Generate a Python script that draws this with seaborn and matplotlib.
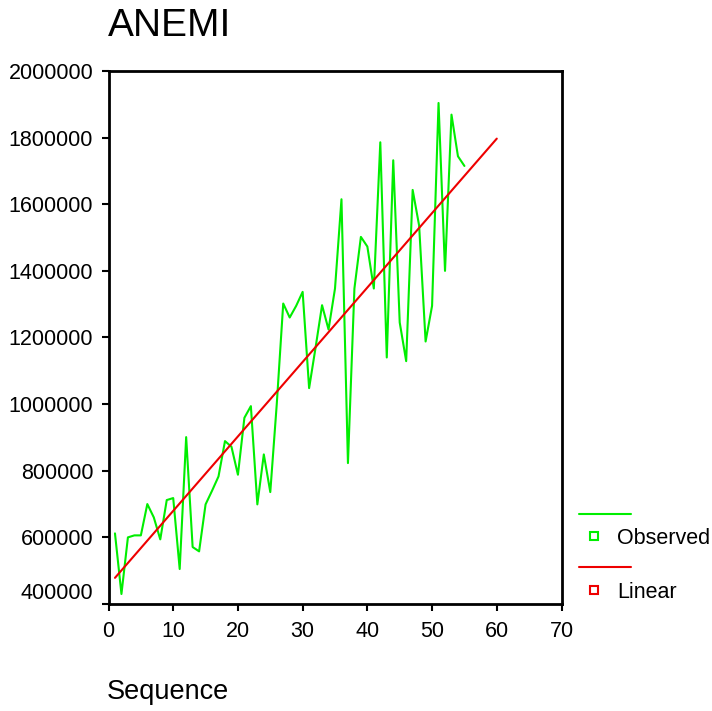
import matplotlib
matplotlib.use("Agg")
import matplotlib.pyplot as plt
from matplotlib.lines import Line2D
import seaborn as sns
import pandas as pd

# ---- data ----
sequence = list(range(1, 56))
observed = [612000, 430000, 600000, 606000, 606000, 700000, 660000, 594000, 712000, 718000,
            505000, 901000, 571000, 558000, 699000, 740000, 783000, 889000, 872000, 788000,
            959000, 994000, 699000, 849000, 736000, 1000000, 1302000, 1260000, 1295000, 1337000,
            1048000, 1170000, 1297000, 1224000, 1347000, 1615000, 823000, 1347000, 1502000, 1473000,
            1347000, 1786000, 1140000, 1732000, 1245000, 1129000, 1643000, 1536000, 1188000, 1295000,
            1904000, 1400000, 1869000, 1744000, 1715000]
linear_x = [1, 60]
linear_y = [478500, 1797000]
x_ticks = [0, 10, 20, 30, 40, 50, 60, 70]
y_ticks = [400000, 600000, 800000, 1000000, 1200000, 1400000, 1600000, 1800000, 2000000]
title = "ANEMI"
x_label = "Sequence"
legend_labels = ["Observed", "Linear"]

sns.set_style("ticks")
plt.rcParams["font.family"] = ["Liberation Sans", "DejaVu Sans"]
plt.rcParams["text.color"] = "black"

obs_df = pd.DataFrame({"seq": sequence, "val": observed})
lin_df = pd.DataFrame({"seq": linear_x, "val": linear_y})

fig = plt.figure(figsize=(7.12, 7.11), dpi=100)
ax = fig.add_axes([108.5 / 712, 1 - 604 / 711, 453 / 712, 533 / 711])

green = "#00ee00"
red = "#ee0000"
sns.lineplot(data=obs_df, x="seq", y="val", ax=ax, color=green, linewidth=1.5)
sns.lineplot(data=lin_df, x="seq", y="val", ax=ax, color=red, linewidth=1.5)

ax.set_xlim(0, 70)
ax.set_ylim(400000, 2000000)
ax.set_xticks(x_ticks)
ax.set_yticks(y_ticks)
ax.set_xticklabels([str(v) for v in x_ticks])
ax.set_yticklabels([str(v) for v in y_ticks])
ax.tick_params(axis="both", labelsize=15.5, length=5, width=1.5, color="black",
               labelcolor="black", direction="out")
ax.tick_params(axis="x", pad=7)
ax.tick_params(axis="y", pad=6)
ax.set_xlabel("")
ax.set_ylabel("")
for s in ax.spines.values():
    s.set_visible(True)
    s.set_linewidth(2)
    s.set_color("black")

# shift the bottom y label up as in reference
ylabs = ax.get_yticklabels()
ylabs[0].set_va("bottom")

fig.text(108 / 712, 1 - 36 / 711, title, fontsize=28, ha="left", va="baseline", color="black")
fig.text(107 / 712, 1 - 699 / 711, x_label, fontsize=19.5, ha="left", va="baseline", color="black")

# custom legend
def fx(px):
    return px / 712

def fy(py):
    return 1 - py / 711

fig.add_artist(Line2D([fx(579), fx(631)], [fy(514), fy(514)], color=green, lw=1.5))
fig.add_artist(Line2D([fx(594)], [fy(536)], marker="s", markersize=5.5, markerfacecolor="white",
                      markeredgecolor=green, markeredgewidth=1.5, linestyle="none"))
fig.text(fx(617), fy(539), legend_labels[0], fontsize=15.5, ha="left", va="center", color="black")
fig.add_artist(Line2D([fx(579), fx(631)], [fy(567), fy(567)], color=red, lw=1.5))
fig.add_artist(Line2D([fx(594)], [fy(590)], marker="s", markersize=5.5, markerfacecolor="white",
                      markeredgecolor=red, markeredgewidth=1.5, linestyle="none"))
fig.text(fx(617), fy(592), legend_labels[1], fontsize=15.5, ha="left", va="center", color="black")

fig.savefig("out.png", dpi=100)
